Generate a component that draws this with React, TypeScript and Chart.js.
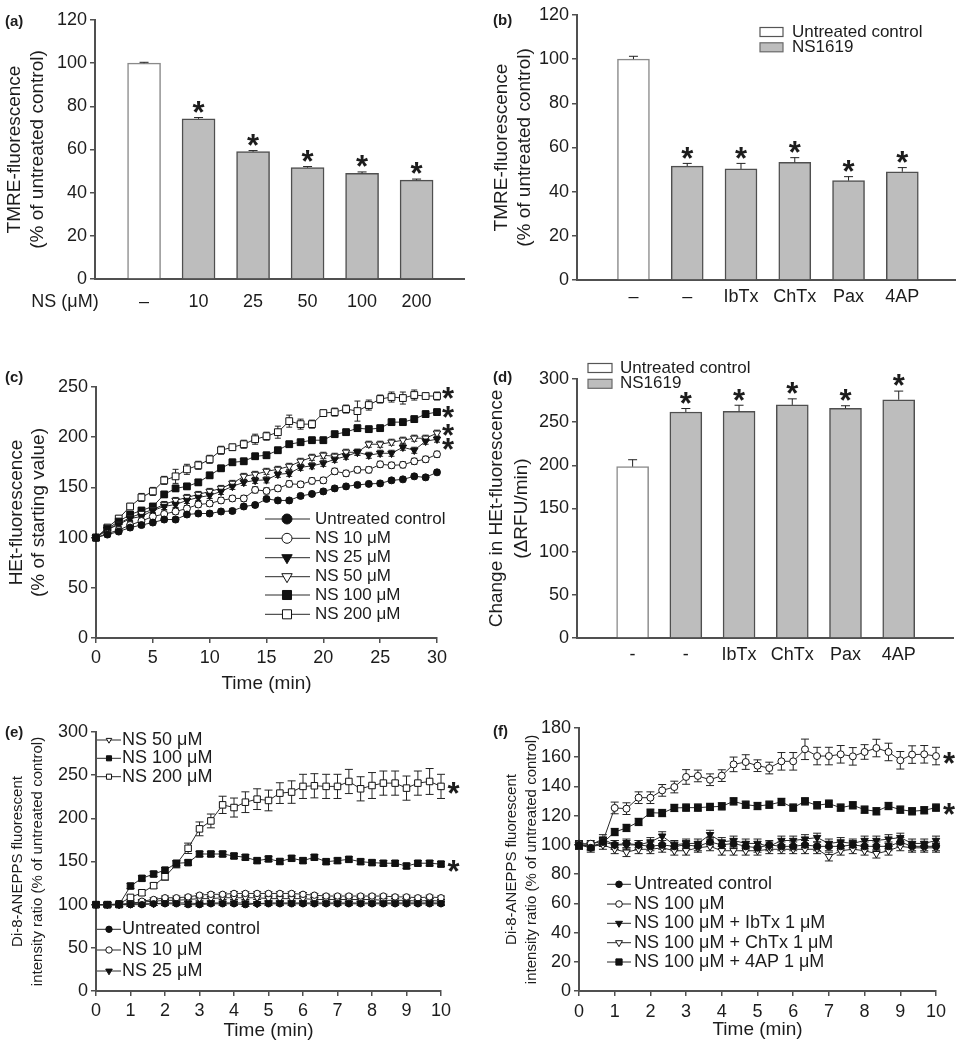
import React, { useEffect, useRef } from 'react';
import { Chart, registerables } from 'chart.js';

Chart.register(...registerables);

const FONT = "'Liberation Sans', Arial, Helvetica, sans-serif";
const INK = '#1c1c1c';
const AXIS = '#505050';
Chart.defaults.font.family = FONT;
Chart.defaults.color = INK;

// ================= DATA =================
const CONTROL = 'Untreated control';
const NS = 'NS1619';
const barLegendLabels = [CONTROL, NS];

// (a)
const aCategories = ['–', '10', '25', '50', '100', '200'];
const aValues = [100, 74.2, 59.0, 51.6, 49.0, 45.8];
const aErrors = [0.4, 0.6, 0.5, 0.5, 0.6, 0.5];
const aSignificant = [false, true, true, true, true, true];
const aGroup = [CONTROL, NS, NS, NS, NS, NS];
const aYTicks = [0, 20, 40, 60, 80, 100, 120];

// (b)
const bCategories = ['–', '–', 'IbTx', 'ChTx', 'Pax', '4AP'];
const bValues = [100, 51.6, 50.3, 53.3, 45.0, 49.0];
const bErrors = [1.3, 1.2, 2.5, 2.1, 1.8, 1.9];
const bSignificant = [false, true, true, true, true, true];
const bGroup = [CONTROL, NS, NS, NS, NS, NS];
const bYTicks = [0, 20, 40, 60, 80, 100, 120];

// (d)
const dCategories = ['-', '-', 'IbTx', 'ChTx', 'Pax', '4AP'];
const dValues = [198.5, 261.8, 262.6, 270, 266, 276];
const dErrors = [8, 4, 7, 7, 3, 10];
const dSignificant = [false, true, true, true, true, true];
const dGroup = [CONTROL, NS, NS, NS, NS, NS];
const dYTicks = [0, 50, 100, 150, 200, 250, 300];

// (c)
const cTime = [0, 1, 2, 3, 4, 5, 6, 7, 8, 9, 10, 11, 12, 13, 14, 15, 16, 17, 18, 19, 20, 21, 22, 23, 24, 25, 26, 27, 28, 29, 30];
const cXTicks = [0, 5, 10, 15, 20, 25, 30];
const cYTicks = [0, 50, 100, 150, 200, 250];
const cControl = [100, 103, 106, 110, 112.5, 115, 118, 118, 123, 124, 124, 126, 126.5, 131, 132.5, 138.5, 137, 137, 141.5, 143.5, 146, 149, 151, 152.5, 153.5, 154, 157, 158, 161, 160, 165];
const cNS10 = [100, 104, 107.5, 112.5, 116.5, 121, 123.5, 126, 129, 133, 134, 137, 139, 139, 147.5, 146.5, 149, 153.5, 153, 156.5, 157, 166, 164, 167.5, 167.5, 173, 172, 172.5, 176, 178, 183];
const cNS25 = [100, 108, 113, 119, 121, 127, 131, 133, 137, 140, 142, 146, 151, 155, 157, 157.5, 163, 164, 170, 171.5, 174, 178, 181, 185, 182, 184, 184, 190, 187, 196, 198];
const cNS50 = [100, 108, 114, 120, 124, 128, 133, 137, 140, 143, 146, 149, 154, 161, 163, 166, 168, 171, 176, 180, 182, 181, 185, 185, 193, 193, 195, 197, 199, 199, 204];
const cNS100 = [100, 109, 116, 123, 127, 131, 143, 149, 151, 155, 162, 169, 175, 176, 181, 182, 187, 193, 195, 197, 197, 203, 205, 209, 208, 209, 215, 215, 218, 223, 225];
const cNS200 = [100, 110, 119, 131, 140, 146, 157, 161, 168, 172, 178, 187, 190, 193, 198, 201, 205, 216, 213, 213, 224, 225, 228, 226, 232, 238, 240, 239, 242, 241, 241];
const cErr200 = [0, 2, 3, 3, 4, 4, 4, 7, 5, 4, 4, 4, 3, 4, 5, 4, 6, 6, 5, 4, 3, 4, 4, 10, 5, 4, 5, 6, 5, 3, 4];

// (e)
const eTime = [0, 0.33, 0.67, 1, 1.33, 1.67, 2, 2.33, 2.67, 3, 3.33, 3.67, 4, 4.33, 4.67, 5, 5.33, 5.67, 6, 6.33, 6.67, 7, 7.33, 7.67, 8, 8.33, 8.67, 9, 9.33, 9.67, 10];
const eXTicks = [0, 1, 2, 3, 4, 5, 6, 7, 8, 9, 10];
const eYTicks = [0, 50, 100, 150, 200, 250, 300];
const eControl = [100, 100, 100, 100, 100, 101, 101, 101, 100, 100, 101, 101, 101, 100, 101, 101, 101, 101, 101, 101, 101, 101, 101, 101, 101, 101, 101, 101, 101, 101, 101];
const eNS10 = [100, 100, 100, 100, 104, 106, 108, 108, 109, 111, 112, 112, 113, 113, 113, 113, 113, 113, 112, 111, 110, 110, 110, 110, 110, 110, 109, 109, 108, 109, 108];
const eNS25 = [100, 100, 100, 101, 101, 101, 102, 102, 102, 101, 102, 102, 102, 102, 101, 102, 102, 102, 102, 102, 102, 102, 102, 102, 102, 102, 102, 102, 102, 102, 102];
const eNS50 = [100, 100, 100, 102, 103, 104, 105, 105, 106, 107, 107, 108, 108, 108, 108, 107, 107, 107, 107, 106, 106, 106, 106, 106, 106, 105, 105, 105, 104, 105, 104];
const eNS100 = [100, 100, 100, 121.6, 130.5, 135.5, 140, 148, 148.7, 158.7, 158.7, 158.7, 156.4, 154.9, 151, 153, 150, 153.7, 151, 154.9, 149.8, 151, 152.5, 149.8, 148.7, 148, 148, 144.8, 148, 148, 147];
const eNS200 = [100, 100, 101, 108.4, 113.8, 122, 132.4, 146.7, 165.3, 187.8, 197, 215.6, 212.5, 218.7, 222.2, 220.7, 229.2, 230.4, 237, 237.7, 237, 237, 242.7, 234.2, 238, 240.8, 240.8, 235, 240.8, 242.7, 237];
const eErr200 = [1, 1, 1, 2, 3, 3, 4, 4, 6, 8, 8, 10, 11, 12, 12, 12, 12, 13, 14, 14, 14, 14, 14, 14, 15, 14, 14, 14, 14, 15, 14];

// (f)
const fTime = [0, 0.33, 0.67, 1, 1.33, 1.67, 2, 2.33, 2.67, 3, 3.33, 3.67, 4, 4.33, 4.67, 5, 5.33, 5.67, 6, 6.33, 6.67, 7, 7.33, 7.67, 8, 8.33, 8.67, 9, 9.33, 9.67, 10];
const fXTicks = [0, 1, 2, 3, 4, 5, 6, 7, 8, 9, 10];
const fYTicks = [0, 20, 40, 60, 80, 100, 120, 140, 160, 180];
const fControl = [100, 98, 102, 100, 101, 100, 99, 100, 99, 100, 99, 102, 100, 101, 99, 98, 100, 99, 99, 100, 99, 99, 99, 100, 99, 99, 99, 102, 99, 99, 99];
const fNS100 = [100.8, 100.8, 102.4, 125.3, 124.8, 132.3, 132.3, 137.3, 139.6, 146.5, 147.2, 144.6, 147.4, 155.1, 156.7, 154.2, 152.6, 157.2, 157.2, 165.4, 160.8, 160.8, 162, 160.6, 163.6, 166.3, 163.6, 157.9, 161.8, 162, 160.8];
const fIbTx = [100, 100, 104, 100, 100, 100, 102, 106, 100, 101, 101, 107, 102, 103, 101, 101, 99, 103, 103, 104, 105, 101, 102, 101, 103, 103, 104, 105, 101, 101, 103];
const fChTx = [100, 99, 100, 97, 95, 97, 97, 98, 96, 96, 98, 99, 96, 96, 96, 96, 97, 97, 97, 97, 97, 92, 96, 97, 96, 94, 96, 99, 98, 98, 98];
const f4AP = [100, 99, 101.5, 108.8, 111.6, 115.7, 122, 121.8, 125.3, 125.5, 125.5, 126, 126.4, 129.8, 127.5, 126.6, 127.5, 129.4, 125.5, 129.8, 127.1, 128.2, 125.5, 127.1, 124.1, 123, 126.6, 124.1, 123, 123.7, 125.5];
const fErrNS100 = [1, 1, 2, 4, 4, 4, 4, 4, 4, 5, 4, 4, 4, 5, 5, 4, 4, 6, 6, 7, 6, 6, 6, 6, 5, 6, 6, 6, 6, 6, 6];

// ================= TYPES / HELPERS =================
type Marker = 'circle' | 'triangleDown' | 'rect';
type Rect = { x: number; y: number; w: number; h: number };
type Area = { L: number; T: number; R: number; B: number };
type Series = { label: string; values: number[]; errors: number | number[]; marker: Marker; filled: boolean; star?: boolean; starDy?: number };
type Sizes = { circle: number; triangleDown: number; rect: number };

const cSeries: Series[] = [
  { label: 'Untreated control', values: cControl, errors: 2.5, marker: 'circle', filled: true },
  { label: 'NS 10 μM', values: cNS10, errors: 3, marker: 'circle', filled: false },
  { label: 'NS 25 μM', values: cNS25, errors: 3, marker: 'triangleDown', filled: true, star: true, starDy: 3 },
  { label: 'NS 50 μM', values: cNS50, errors: 3, marker: 'triangleDown', filled: false, star: true, starDy: -5 },
  { label: 'NS 100 μM', values: cNS100, errors: 3, marker: 'rect', filled: true, star: true, starDy: -2 },
  { label: 'NS 200 μM', values: cNS200, errors: cErr200, marker: 'rect', filled: false, star: true, starDy: -5 },
];
const eSeries: Series[] = [
  { label: 'Untreated control', values: eControl, errors: 2, marker: 'circle', filled: true },
  { label: 'NS 10 μM', values: eNS10, errors: 2, marker: 'circle', filled: false },
  { label: 'NS 25 μM', values: eNS25, errors: 2, marker: 'triangleDown', filled: true },
  { label: 'NS 50 μM', values: eNS50, errors: 2, marker: 'triangleDown', filled: false },
  { label: 'NS 100 μM', values: eNS100, errors: 3, marker: 'rect', filled: true, star: true, starDy: 0 },
  { label: 'NS 200 μM', values: eNS200, errors: eErr200, marker: 'rect', filled: false, star: true, starDy: 0 },
];
const fSeries: Series[] = [
  { label: 'Untreated control', values: fControl, errors: 3, marker: 'circle', filled: true },
  { label: 'NS 100 μM', values: fNS100, errors: fErrNS100, marker: 'circle', filled: false, star: true, starDy: 0 },
  { label: 'NS 100 μM + IbTx 1 μM', values: fIbTx, errors: 3, marker: 'triangleDown', filled: true },
  { label: 'NS 100 μM + ChTx 1 μM', values: fChTx, errors: 3, marker: 'triangleDown', filled: false },
  { label: 'NS 100 μM + 4AP 1 μM', values: f4AP, errors: 2.5, marker: 'rect', filled: true, star: true, starDy: 0 },
];

function drawMarker(ctx: CanvasRenderingContext2D, kind: Marker, x: number, y: number, r: number, filled: boolean) {
  ctx.beginPath();
  if (kind === 'circle') {
    ctx.arc(x, y, r, 0, Math.PI * 2);
  } else if (kind === 'rect') {
    const s = r * Math.SQRT1_2;
    ctx.rect(x - s, y - s, 2 * s, 2 * s);
  } else {
    ctx.moveTo(x, y + r);
    ctx.lineTo(x - r * 0.866, y - r * 0.5);
    ctx.lineTo(x + r * 0.866, y - r * 0.5);
    ctx.closePath();
  }
  ctx.fillStyle = filled ? '#111' : '#fff';
  ctx.fill();
  ctx.strokeStyle = '#111';
  ctx.lineWidth = 1;
  ctx.stroke();
}

function drawText(ctx: CanvasRenderingContext2D, s: string, x: number, y: number, size: number, bold = false, align: CanvasTextAlign = 'left') {
  ctx.font = `${bold ? 'bold ' : ''}${size}px ${FONT}`;
  ctx.fillStyle = INK;
  ctx.textAlign = align;
  ctx.textBaseline = 'middle';
  ctx.fillText(s, x, y);
}

function drawStar(ctx: CanvasRenderingContext2D, x: number, cy: number, size = 31) {
  ctx.font = `bold ${size}px ${FONT}`;
  ctx.fillStyle = INK;
  ctx.textAlign = 'center';
  ctx.textBaseline = 'alphabetic';
  ctx.fillText('*', x, cy + 0.575 * size);
}

function errorBarsPlugin(cap: number, both: boolean, phase: 'before' | 'after') {
  const run = (chart: any) => {
    const ctx: CanvasRenderingContext2D = chart.ctx;
    const ys = chart.scales.y;
    ctx.save();
    ctx.strokeStyle = '#222';
    ctx.lineWidth = 1;
    chart.data.datasets.forEach((ds: any, di: number) => {
      if (ds.errors == null) return;
      const meta = chart.getDatasetMeta(di);
      meta.data.forEach((el: any, j: number) => {
        const e = Array.isArray(ds.errors) ? ds.errors[j] : ds.errors;
        if (!e) return;
        const v = ds.data[j].y;
        const x = el.x;
        const top = ys.getPixelForValue(v + e);
        const bot = ys.getPixelForValue(both ? v - e : v);
        ctx.beginPath();
        ctx.moveTo(x, top);
        ctx.lineTo(x, bot);
        ctx.moveTo(x - cap / 2, top);
        ctx.lineTo(x + cap / 2, top);
        if (both) {
          ctx.moveTo(x - cap / 2, bot);
          ctx.lineTo(x + cap / 2, bot);
        }
        ctx.stroke();
      });
    });
    ctx.restore();
  };
  return phase === 'before' ? { id: 'errorBars', beforeDatasetsDraw: run } : { id: 'errorBars', afterDatasetsDraw: run };
}

function overlayPlugin(draw: (ctx: CanvasRenderingContext2D, chart: any) => void) {
  return {
    id: 'overlay',
    afterDraw(chart: any) {
      const ctx: CanvasRenderingContext2D = chart.ctx;
      ctx.save();
      draw(ctx, chart);
      ctx.restore();
    },
  };
}

function yScale(rect: Rect, area: Area, ticks: number[], title: string[], titleSize: number, lineHeight: number, titlePad: number) {
  return {
    type: 'linear',
    position: 'left',
    min: ticks[0],
    max: ticks[ticks.length - 1],
    bounds: 'data',
    afterBuildTicks: (axis: any) => { axis.ticks = ticks.map((v) => ({ value: v })); },
    ticks: { padding: 3, color: INK, font: { size: 18, family: FONT }, callback: (v: any) => String(v), autoSkip: false },
    grid: { display: true, drawOnChartArea: false, drawTicks: true, tickLength: 5, color: AXIS, lineWidth: 1.5 },
    border: { display: true, color: AXIS, width: 2 },
    title: { display: true, text: title, color: INK, font: { size: titleSize, family: FONT, lineHeight }, padding: { top: titlePad, bottom: 0 } },
    afterFit: (s: any) => { s.width = area.L - rect.x; },
  };
}

function xBarScale(rect: Rect, area: Area, labels: string[], min: number, max: number, pad: number) {
  return {
    type: 'linear',
    position: 'bottom',
    min,
    max,
    bounds: 'data',
    offset: false,
    afterBuildTicks: (axis: any) => { axis.ticks = labels.map((_, i) => ({ value: i })); },
    ticks: { callback: (v: any) => labels[v] ?? '', padding: pad, color: INK, font: { size: 18, family: FONT }, autoSkip: false, maxRotation: 0 },
    grid: { display: false, drawTicks: false, offset: false },
    border: { display: true, color: AXIS, width: 2 },
    afterFit: (s: any) => { s.height = rect.y + rect.h - area.B; },
  };
}

function xLineScale(rect: Rect, area: Area, ticks: number[], pad: number, titlePad: number) {
  return {
    type: 'linear',
    position: 'bottom',
    min: ticks[0],
    max: ticks[ticks.length - 1],
    bounds: 'data',
    afterBuildTicks: (axis: any) => { axis.ticks = ticks.map((v) => ({ value: v })); },
    ticks: { padding: pad, color: INK, font: { size: 18, family: FONT }, callback: (v: any) => String(v), autoSkip: false, maxRotation: 0 },
    grid: { display: true, drawOnChartArea: false, drawTicks: true, tickLength: 5, color: AXIS, lineWidth: 1.5 },
    border: { display: true, color: AXIS, width: 2 },
    title: { display: true, text: 'Time (min)', color: INK, font: { size: 19, family: FONT }, padding: { top: 0, bottom: titlePad } },
    afterFit: (s: any) => { s.height = rect.y + rect.h - area.B; },
  };
}

function baseOptions(rect: Rect, area: Area) {
  return {
    responsive: false,
    animation: false,
    events: [],
    devicePixelRatio: 1,
    layout: { padding: { left: 0, top: area.T - rect.y, right: rect.x + rect.w - area.R, bottom: 0 } },
    plugins: { legend: { display: false }, tooltip: { enabled: false }, title: { display: false } },
  };
}

// ---------- bar panels ----------
type BarPanel = {
  letter: string; rect: Rect; area: Area; categories: string[]; values: number[]; errors: number[];
  significant: boolean[]; group: string[]; yTicks: number[]; xMin: number; xMax: number; barWidth: number;
  xPad: number; title: string[]; titleLH: number; titlePad: number; letterPos: [number, number];
  legend?: { boxX: number; boxW: number; boxH: number; textX: number; rows: number[] };
  extraLabel?: { text: string; x: number; y: number };
};

function barConfig(p: BarPanel) {
  const { rect, area } = p;
  return {
    type: 'bar',
    data: {
      datasets: [{
        data: p.categories.map((_, i) => ({ x: i, y: p.values[i] })),
        backgroundColor: p.group.map((g) => (g === CONTROL ? '#ffffff' : '#bdbdbd')),
        borderColor: p.group.map((g) => (g === CONTROL ? '#8a8a8a' : '#4f4f4f')),
        borderWidth: 1.5,
        barThickness: p.barWidth,
        errors: p.errors,
      }],
    },
    options: {
      ...baseOptions(rect, area),
      scales: {
        x: xBarScale(rect, area, p.categories, p.xMin, p.xMax, p.xPad),
        y: yScale(rect, area, p.yTicks, p.title, 19, p.titleLH, p.titlePad),
      },
    },
    plugins: [
      errorBarsPlugin(9, false, 'after'),
      overlayPlugin((ctx, chart) => {
        const ys = chart.scales.y;
        const meta = chart.getDatasetMeta(0);
        p.significant.forEach((sig, i) => {
          if (!sig) return;
          const top = ys.getPixelForValue(p.values[i] + p.errors[i]);
          drawStar(ctx, meta.data[i].x, top - 12.5);
        });
        drawText(ctx, p.letter, p.letterPos[0] - rect.x, p.letterPos[1] - rect.y, 15, true);
        if (p.extraLabel) drawText(ctx, p.extraLabel.text, p.extraLabel.x - rect.x, p.extraLabel.y - rect.y, 18, false, 'center');
        if (p.legend) {
          const L = p.legend;
          barLegendLabels.forEach((lab, i) => {
            const cy = L.rows[i] - rect.y;
            ctx.fillStyle = lab === CONTROL ? '#ffffff' : '#bdbdbd';
            ctx.strokeStyle = lab === CONTROL ? '#555' : '#6a6a6a';
            ctx.lineWidth = 1.2;
            ctx.fillRect(L.boxX - rect.x, cy - L.boxH / 2, L.boxW, L.boxH);
            ctx.strokeRect(L.boxX - rect.x, cy - L.boxH / 2, L.boxW, L.boxH);
            drawText(ctx, lab, L.textX - rect.x, cy, 17);
          });
        }
      }),
    ],
  };
}

// ---------- line panels ----------
type LegendGroup = { idx: number[]; x1: number; x2: number; mx: number; tx: number; rows: number[]; size: number; sizes: Sizes };
type LinePanel = {
  letter: string; rect: Rect; area: Area; time: number[]; series: Series[]; xTicks: number[]; yTicks: number[];
  title: string[]; titleSize: number; titleLH: number; titlePad: number; xPad: number; xTitlePad: number;
  letterPos: [number, number]; sizes: Sizes; cap: number; starDx: number; legends: LegendGroup[];
};

function lineConfig(p: LinePanel) {
  const { rect, area } = p;
  return {
    type: 'line',
    data: {
      datasets: p.series.map((s) => ({
        label: s.label,
        data: p.time.map((t, i) => ({ x: t, y: s.values[i] })),
        borderColor: '#2a2a2a',
        borderWidth: 1,
        tension: 0,
        fill: false,
        clip: false,
        pointStyle: s.marker === 'rect' ? 'rect' : s.marker === 'triangleDown' ? 'triangle' : 'circle',
        pointRotation: s.marker === 'triangleDown' ? 180 : 0,
        pointRadius: p.sizes[s.marker],
        pointBackgroundColor: s.filled ? '#111' : '#fff',
        pointBorderColor: '#111',
        pointBorderWidth: 1,
        errors: s.errors,
      })),
    },
    options: {
      ...baseOptions(rect, area),
      scales: {
        x: xLineScale(rect, area, p.xTicks, p.xPad, p.xTitlePad),
        y: yScale(rect, area, p.yTicks, p.title, p.titleSize, p.titleLH, p.titlePad),
      },
    },
    plugins: [
      errorBarsPlugin(p.cap, true, 'before'),
      overlayPlugin((ctx, chart) => {
        const ys = chart.scales.y;
        p.series.forEach((s) => {
          if (!s.star) return;
          const last = s.values[s.values.length - 1];
          drawStar(ctx, chart.chartArea.right + p.starDx, ys.getPixelForValue(last) + (s.starDy || 0));
        });
        drawText(ctx, p.letter, p.letterPos[0] - rect.x, p.letterPos[1] - rect.y, 15, true);
        p.legends.forEach((g) => {
          g.idx.forEach((si, k) => {
            const s = p.series[si];
            const cy = g.rows[k] - rect.y;
            ctx.strokeStyle = '#2a2a2a';
            ctx.lineWidth = 1;
            ctx.beginPath();
            ctx.moveTo(g.x1 - rect.x, cy);
            ctx.lineTo(g.x2 - rect.x, cy);
            ctx.stroke();
            drawMarker(ctx, s.marker, g.mx - rect.x, cy, g.sizes[s.marker], s.filled);
            drawText(ctx, s.label, g.tx - rect.x, cy, g.size);
          });
        });
      }),
    ],
  };
}

// ================= PANELS =================
const panelA: BarPanel = {
  letter: '(a)', rect: { x: 0, y: 0, w: 480, h: 325 }, area: { L: 95, T: 20, R: 464, B: 279 },
  categories: aCategories, values: aValues, errors: aErrors, significant: aSignificant, group: aGroup, yTicks: aYTicks,
  xMin: -0.9, xMax: 5.87, barWidth: 33, xPad: 12, title: ['TMRE-fluorescence', '(% of untreated control)'],
  titleLH: 1.18, titlePad: 3.8, letterPos: [5, 22], extraLabel: { text: 'NS (μM)', x: 65, y: 302 },
};
const panelB: BarPanel = {
  letter: '(b)', rect: { x: 480, y: 0, w: 480, h: 325 }, area: { L: 577, T: 15, R: 955, B: 280 },
  categories: bCategories, values: bValues, errors: bErrors, significant: bSignificant, group: bGroup, yTicks: bYTicks,
  xMin: -1.05, xMax: 5.98, barWidth: 32, xPad: 6, title: ['TMRE-fluorescence', '(% of untreated control)'],
  titleLH: 1.22, titlePad: 10, letterPos: [493, 21],
  legend: { boxX: 760, boxW: 23, boxH: 9, textX: 792, rows: [32, 47.3] },
};
const panelD: BarPanel = {
  letter: '(d)', rect: { x: 480, y: 330, w: 480, h: 350 }, area: { L: 577, T: 379, R: 953, B: 638 },
  categories: dCategories, values: dValues, errors: dErrors, significant: dSignificant, group: dGroup, yTicks: dYTicks,
  xMin: -1.045, xMax: 6.02, barWidth: 32, xPad: 6, title: ['Change in HEt-fluorescence', '(ΔRFU/min)'],
  titleLH: 1.3, titlePad: 4.6, letterPos: [493, 377.7],
  legend: { boxX: 588, boxW: 24, boxH: 9, textX: 620, rows: [368, 383.8] },
};
const panelC: LinePanel = {
  letter: '(c)', rect: { x: 0, y: 330, w: 480, h: 370 }, area: { L: 96, T: 387, R: 437, B: 638 },
  time: cTime, series: cSeries, xTicks: cXTicks, yTicks: cYTicks,
  title: ['HEt-fluorescence', '(% of starting value)'], titleSize: 19, titleLH: 1.12, titlePad: 6.4,
  xPad: 4.2, xTitlePad: 4.6, letterPos: [5, 378], sizes: { circle: 3.5, triangleDown: 4.3, rect: 4.8 }, cap: 6, starDx: 11,
  legends: [{ idx: [0, 1, 2, 3, 4, 5], x1: 265, x2: 310, mx: 287, tx: 315, rows: [519, 538.3, 557.7, 576.7, 595, 614.3], size: 17, sizes: { circle: 5, triangleDown: 6, rect: 6.4 } }],
};
const panelE: LinePanel = {
  letter: '(e)', rect: { x: 0, y: 700, w: 480, h: 345 }, area: { L: 96, T: 732, R: 441, B: 991 },
  time: eTime, series: eSeries, xTicks: eXTicks, yTicks: eYTicks,
  title: ['Di-8-ANEPPS fluorescent', 'intensity ratio (% of untreated control)'], titleSize: 15, titleLH: 1.33, titlePad: 8,
  xPad: 4.2, xTitlePad: 2.6, letterPos: [5, 733], sizes: { circle: 3.2, triangleDown: 4, rect: 4.6 }, cap: 8, starDx: 12.5,
  legends: [
    { idx: [3, 4, 5], x1: 97, x2: 121, mx: 109, tx: 122, rows: [740, 758.3, 776.7], size: 18, sizes: { circle: 2.6, triangleDown: 3.2, rect: 3.6 } },
    { idx: [0, 1, 2], x1: 97, x2: 121, mx: 109, tx: 122, rows: [929.3, 950, 971], size: 18, sizes: { circle: 3.2, triangleDown: 3.8, rect: 4 } },
  ],
};
const panelF: LinePanel = {
  letter: '(f)', rect: { x: 480, y: 700, w: 480, h: 345 }, area: { L: 579, T: 728, R: 936, B: 991 },
  time: fTime, series: fSeries, xTicks: fXTicks, yTicks: fYTicks,
  title: ['Di-8-ANEPPS fluorescent', 'intensity ratio (% of untreated control)'], titleSize: 15, titleLH: 1.33, titlePad: 22.3,
  xPad: 5, xTitlePad: 3.6, letterPos: [493, 732.3], sizes: { circle: 3.5, triangleDown: 4.3, rect: 4.8 }, cap: 8, starDx: 13,
  legends: [{ idx: [0, 1, 2, 3, 4], x1: 607, x2: 631, mx: 619, tx: 634, rows: [884.3, 904, 923.3, 942.7, 962], size: 18, sizes: { circle: 3.3, triangleDown: 4, rect: 4.4 } }],
};

// ================= COMPONENTS =================
function ChartCanvas({ rect, make }: { rect: Rect; make: () => any }) {
  const ref = useRef<HTMLCanvasElement>(null);
  useEffect(() => {
    if (!ref.current) return;
    const chart = new Chart(ref.current, make());
    return () => chart.destroy();
  }, []);
  return (
    <canvas
      ref={ref}
      width={rect.w}
      height={rect.h}
      style={{ position: 'absolute', left: rect.x, top: rect.y, width: rect.w, height: rect.h }}
    />
  );
}

export default function App() {
  return (
    <div style={{ position: 'absolute', left: 0, top: 0, width: 964, height: 1048, background: '#ffffff' }}>
      <ChartCanvas rect={panelA.rect} make={() => barConfig(panelA)} />
      <ChartCanvas rect={panelB.rect} make={() => barConfig(panelB)} />
      <ChartCanvas rect={panelC.rect} make={() => lineConfig(panelC)} />
      <ChartCanvas rect={panelD.rect} make={() => barConfig(panelD)} />
      <ChartCanvas rect={panelE.rect} make={() => lineConfig(panelE)} />
      <ChartCanvas rect={panelF.rect} make={() => lineConfig(panelF)} />
    </div>
  );
}
